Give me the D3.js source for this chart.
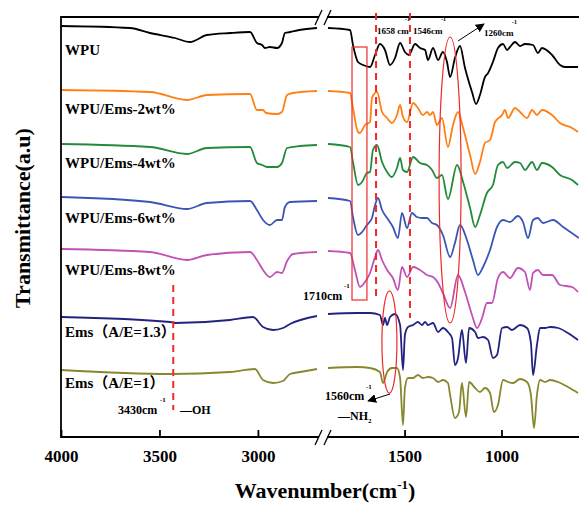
<!DOCTYPE html>
<html>
<head>
<meta charset="utf-8">
<script src="https://cdn.jsdelivr.net/npm/d3@7"></script>
<style>body{margin:0;background:#fff}</style>
</head>
<body>
<script>
const width = 579, height = 505;

// series names, colours and stacking offsets (a.u.)
const seriesNames = ["WPU", "WPU/Ems-2wt%", "WPU/Ems-4wt%", "WPU/Ems-6wt%", "WPU/Ems-8wt%", "Ems（A/E=1.3）", "Ems（A/E=1）"];
const seriesColors = ["#000000", "#ff7f12", "#228b3b", "#3b55b5", "#c251b5", "#222280", "#87872d"];
const seriesOffsets = [411, 347, 293, 240, 188, 120, 67];

// spectra: [wavenumber, transmittance relative to baseline]
const wpu = [[4000,0],[3650,-2],[3548,-7],[3421,-12],[3345,-16],[3259,-9],[3142,-7],[3040,-6],[3005,-17],[2979,-19],[2964,-22],[2939,-21],[2903,-22],[2878,-17],[2863,-7],[2837,-6],[2790,-4],[2700,-2],
  [1895,-2],[1781,-4],[1766,-19],[1740,-36],[1714,-39],[1678,-41],[1652,-29],[1627,-18],[1601,-24],[1575,-39],[1549,-32],[1523,-17],[1498,-26],[1477,-29],[1446,-18],[1420,-22],[1394,-24],[1379,-34],[1353,-22],[1327,-34],[1302,-26],[1281,-36],[1265,-51],[1240,-32],[1214,-20],[1188,-42],[1152,-66],[1131,-78],[1111,-69],[1085,-51],[1069,-47],[1044,-36],[1018,-22],[992,-18],[971,-24],[956,-21],[930,-16],[904,-20],[879,-18],[837,-19],[812,-27],[791,-22],[739,-29],[698,-39],[672,-41],[605,-41]];
const ems2 = [[4000,0],[3548,-2],[3360,-10],[3259,-5],[3040,-4],[3005,-20],[2974,-20],[2959,-23],[2903,-24],[2878,-22],[2852,-5],[2822,-3],[2700,-1],
  [1895,-1],[1781,-3],[1766,-18],[1740,-42],[1730,-43],[1704,-35],[1678,-32],[1668,-8],[1642,-2],[1616,-22],[1590,-28],[1565,-33],[1539,-25],[1523,-15],[1508,-27],[1487,-32],[1456,-13],[1431,-18],[1405,-25],[1384,-22],[1369,-25],[1353,-22],[1333,-35],[1307,-28],[1276,-57],[1250,-35],[1224,-22],[1198,-38],[1162,-65],[1136,-84],[1111,-72],[1085,-53],[1059,-50],[1033,-32],[997,-25],[982,-20],[966,-28],[930,-18],[904,-22],[868,-28],[842,-20],[817,-25],[791,-20],[739,-25],[698,-33],[636,-38],[605,-42]];
const ems4 = [[4000,0],[3548,-3],[3360,-10],[3259,-4],[3040,-3],[3005,-19],[2979,-21],[2954,-23],[2903,-23],[2878,-19],[2852,-4],[2786,-2],[2700,-1],
  [1895,0],[1781,-3],[1766,-18],[1740,-41],[1719,-38],[1694,-29],[1678,-28],[1663,-6],[1642,-1],[1616,-18],[1590,-28],[1565,-33],[1539,-24],[1523,-14],[1508,-26],[1487,-28],[1456,-13],[1420,-19],[1384,-21],[1358,-26],[1333,-34],[1307,-31],[1276,-55],[1229,-21],[1198,-38],[1162,-64],[1136,-83],[1111,-71],[1075,-49],[1044,-41],[1018,-21],[992,-18],[971,-24],[930,-18],[904,-19],[879,-26],[842,-18],[817,-26],[791,-19],[739,-23],[698,-31],[636,-36],[605,-41]];
const ems6 = [[4000,0],[3548,-5],[3360,-12],[3259,-6],[3040,-4],[3005,-13],[2974,-23],[2939,-28],[2903,-23],[2878,-23],[2863,-10],[2837,-5],[2700,-4],
  [1895,-1],[1781,-4],[1766,-20],[1740,-38],[1719,-35],[1694,-28],[1668,-21],[1652,-8],[1637,-1],[1616,-13],[1590,-21],[1560,-30],[1534,-41],[1513,-16],[1487,-31],[1462,-16],[1436,-20],[1410,-21],[1384,-21],[1358,-26],[1333,-28],[1302,-38],[1265,-60],[1240,-46],[1214,-28],[1178,-43],[1147,-63],[1121,-78],[1095,-70],[1059,-53],[1023,-30],[992,-23],[956,-25],[915,-19],[889,-25],[863,-41],[837,-23],[812,-21],[786,-26],[734,-23],[682,-30],[600,-41]];
const ems8 = [[4000,0],[3548,-3],[3360,-11],[3259,-6],[3040,-3],[3005,-11],[2974,-21],[2939,-28],[2903,-23],[2878,-24],[2852,-12],[2822,-5],[2700,-3],
  [1895,-2],[1781,-4],[1756,-21],[1730,-38],[1704,-33],[1678,-24],[1652,-8],[1637,-1],[1616,-11],[1590,-21],[1560,-29],[1534,-41],[1513,-18],[1487,-28],[1456,-18],[1420,-21],[1384,-26],[1353,-28],[1327,-34],[1302,-44],[1265,-59],[1224,-26],[1188,-43],[1152,-66],[1126,-79],[1100,-69],[1075,-54],[1049,-54],[1018,-29],[992,-23],[956,-29],[915,-19],[879,-23],[853,-41],[837,-24],[812,-21],[786,-26],[739,-26],[698,-36],[636,-38],[605,-43]];
const emsAE13 = [[4000,0],[3446,-5],[3421,-6],[3142,-3],[3025,0],[2974,-10],[2923,-13],[2873,-11],[2837,-7],[2700,1],
  [1895,3],[1745,4],[1678,4],[1627,2],[1611,-8],[1601,-1],[1590,-8],[1575,0],[1549,3],[1523,-8],[1508,-53],[1498,-18],[1482,-10],[1456,-8],[1431,-5],[1410,-8],[1394,-5],[1379,-8],[1353,-6],[1327,-15],[1302,-11],[1276,-15],[1255,-21],[1240,-48],[1224,-41],[1204,-13],[1183,-46],[1167,-11],[1136,-15],[1121,-21],[1095,-20],[1069,-23],[1044,-41],[1023,-38],[997,-11],[971,-10],[946,-13],[904,-8],[868,-11],[848,-26],[837,-58],[817,-28],[801,-11],[775,-11],[749,-10],[708,-11],[657,-16],[605,-23]];
const emsAE1 = [[4000,0],[3446,-4],[3142,-2],[3015,1],[2974,-10],[2923,-13],[2873,-11],[2837,-4],[2786,-2],[2700,1],
  [1895,2],[1745,3],[1678,2],[1627,-2],[1611,-13],[1590,-2],[1565,2],[1539,2],[1523,-8],[1508,-55],[1498,-18],[1482,-8],[1456,-8],[1431,-5],[1405,-8],[1379,-7],[1353,-8],[1327,-12],[1302,-10],[1276,-13],[1265,-25],[1240,-48],[1219,-42],[1204,-13],[1183,-47],[1167,-12],[1136,-18],[1111,-22],[1085,-18],[1059,-23],[1039,-42],[1018,-35],[992,-10],[966,-12],[940,-13],[904,-9],[868,-12],[848,-25],[832,-58],[817,-25],[801,-10],[775,-12],[749,-10],[708,-12],[657,-17],[605,-23]];
const spectra = [wpu, ems2, ems4, ems6, ems8, emsAE13, emsAE1];

const leftTicks = [4000, 3500, 3000];
const rightTicks = [1500, 1000];

// label baselines (px) for each series
const labelY = [55, 114, 168, 223, 275, 337, 388];

const serif = "'Liberation Serif', 'Times New Roman', 'Noto Sans CJK SC', serif";

const svg = d3.select("body").append("svg")
    .attr("width", width)
    .attr("height", height);

// broken x axis: two scales
const xL = d3.scaleLinear().domain([4000, 2700]).range([61, 317]);
const xR = d3.scaleLinear().domain([1900, 600]).range([327, 579]);
const xw = wn => (wn > 2000 ? xL : xR)(wn);
const y = d3.scaleLinear().domain([0, 420]).range([437, 17]);

const line = d3.line()
    .x(d => xw(d[0]))
    .y(d => d[1])
    .curve(d3.curveMonotoneX);

spectra.forEach((s, i) => {
    const pts = s.map(d => [d[0], y(seriesOffsets[i] + d[1])]);
    [pts.filter(d => d[0] > 2000), pts.filter(d => d[0] < 2000)].forEach(seg => {
        svg.append("path")
            .attr("d", line(seg))
            .attr("fill", "none")
            .attr("stroke", seriesColors[i])
            .attr("stroke-width", 1.8)
            .attr("stroke-linejoin", "round");
    });
    svg.append("text")
        .attr("x", 65)
        .attr("y", labelY[i])
        .attr("font-family", serif)
        .attr("font-weight", "bold")
        .attr("font-size", "15px")
        .text(seriesNames[i]);
});

// axes
const fmt = d3.format("d");
const axisL = svg.append("g").attr("transform", "translate(0,437)")
    .call(d3.axisBottom(xL).tickValues(leftTicks).tickFormat(fmt).tickSize(-7).tickPadding(13).tickSizeOuter(0));
const axisR = svg.append("g").attr("transform", "translate(0,437)")
    .call(d3.axisBottom(xR).tickValues(rightTicks).tickFormat(fmt).tickSize(-7).tickPadding(13).tickSizeOuter(0));
[axisL, axisR].forEach(a => {
    a.select(".domain").remove();
    a.selectAll("line").attr("stroke", "#000").attr("stroke-width", 1.8);
    a.selectAll("text")
        .attr("font-family", serif)
        .attr("font-weight", "bold")
        .attr("font-size", "17px")
        .attr("fill", "#000");
});

// frame
const frame = [[[61, 17], [579, 17]], [[61, 437], [579, 437]], [[61, 16], [61, 438]]];
frame.forEach(f => {
    svg.append("line")
        .attr("x1", f[0][0]).attr("y1", f[0][1])
        .attr("x2", f[1][0]).attr("y2", f[1][1])
        .attr("stroke", "#000").attr("stroke-width", 1.8);
});

// axis break marks
[17, 437].forEach(yy => {
    svg.append("rect").attr("x", 319).attr("y", yy - 2).attr("width", 8).attr("height", 4).attr("fill", "#fff");
    [0, 9].forEach(dx => {
        svg.append("line")
            .attr("x1", 315 + dx).attr("y1", yy + 8)
            .attr("x2", 322 + dx).attr("y2", yy - 7)
            .attr("stroke", "#000").attr("stroke-width", 1.3);
    });
});

// axis titles
const xt = svg.append("text")
    .attr("x", 325).attr("y", 498)
    .attr("text-anchor", "middle")
    .attr("font-family", serif)
    .attr("font-weight", "bold")
    .attr("font-size", "22px")
    .text("Wavenumber(cm");
xt.append("tspan").attr("font-size", "13px").attr("dy", -9).text("-1");
xt.append("tspan").attr("dy", 9).text(")");

svg.append("text")
    .attr("transform", "translate(30,218) rotate(-90)")
    .attr("text-anchor", "middle")
    .attr("font-family", serif)
    .attr("font-weight", "bold")
    .attr("font-size", "22px")
    .text("Transmittance(a.u)");

// annotations
const red = "#ee2a2a";
const dashed = [[3430, 152, 27], [1647, 424, 137], [1472, 424, 119]];
dashed.forEach(d => {
    svg.append("line")
        .attr("x1", xw(d[0])).attr("x2", xw(d[0]))
        .attr("y1", y(d[1])).attr("y2", y(d[2]))
        .attr("stroke", red).attr("stroke-width", 2)
        .attr("stroke-dasharray", "7,5");
});

svg.append("rect")
    .attr("x", xR(1771)).attr("y", y(390))
    .attr("width", xR(1694) - xR(1771)).attr("height", y(137) - y(390))
    .attr("fill", "none").attr("stroke", red).attr("stroke-width", 1.2);

const ellipses = [[1265, 257, 11, 143], [1578, 95, 7.5, 51]];
ellipses.forEach(e => {
    svg.append("ellipse")
        .attr("cx", xR(e[0])).attr("cy", y(e[1]))
        .attr("rx", e[2]).attr("ry", e[3])
        .attr("fill", "none").attr("stroke", red).attr("stroke-width", 1.2);
});

svg.append("defs").append("marker")
    .attr("id", "ah")
    .attr("viewBox", "0 0 10 10")
    .attr("refX", 9).attr("refY", 5)
    .attr("markerWidth", 9).attr("markerHeight", 9)
    .attr("markerUnits", "userSpaceOnUse")
    .attr("orient", "auto")
    .append("path").attr("d", "M0,0L10,5L0,10z").attr("fill", "#000");

[[[458, 41], [484, 24]], [[390, 394], [368, 401]]].forEach(a => {
    svg.append("line")
        .attr("x1", a[0][0]).attr("y1", a[0][1])
        .attr("x2", a[1][0]).attr("y2", a[1][1])
        .attr("stroke", "#000").attr("stroke-width", 1)
        .attr("marker-end", "url(#ah)");
});

const notes = [
    ["1658 cm", 377, 34, 9], ["-1", 405, 21, 6],
    ["1546cm", 413, 34, 9], ["-1", 441, 21, 6],
    ["1260cm", 484, 36, 9], ["-1", 512, 24, 6],
    ["1710cm", 303, 300, 12], ["-1", 344, 288, 7],
    ["1560cm", 325, 400, 12], ["-1", 366, 389, 7],
    ["—NH", 338, 420, 12], ["2", 368, 423, 7],
    ["3430cm", 118, 414, 12], ["-1", 160, 402, 7],
    ["—OH", 180, 414, 12]
];
notes.forEach(n => {
    svg.append("text")
        .attr("x", n[1]).attr("y", n[2])
        .attr("font-family", serif)
        .attr("font-weight", "bold")
        .attr("font-size", n[3] + "px")
        .text(n[0]);
});
</script>
</body>
</html>
